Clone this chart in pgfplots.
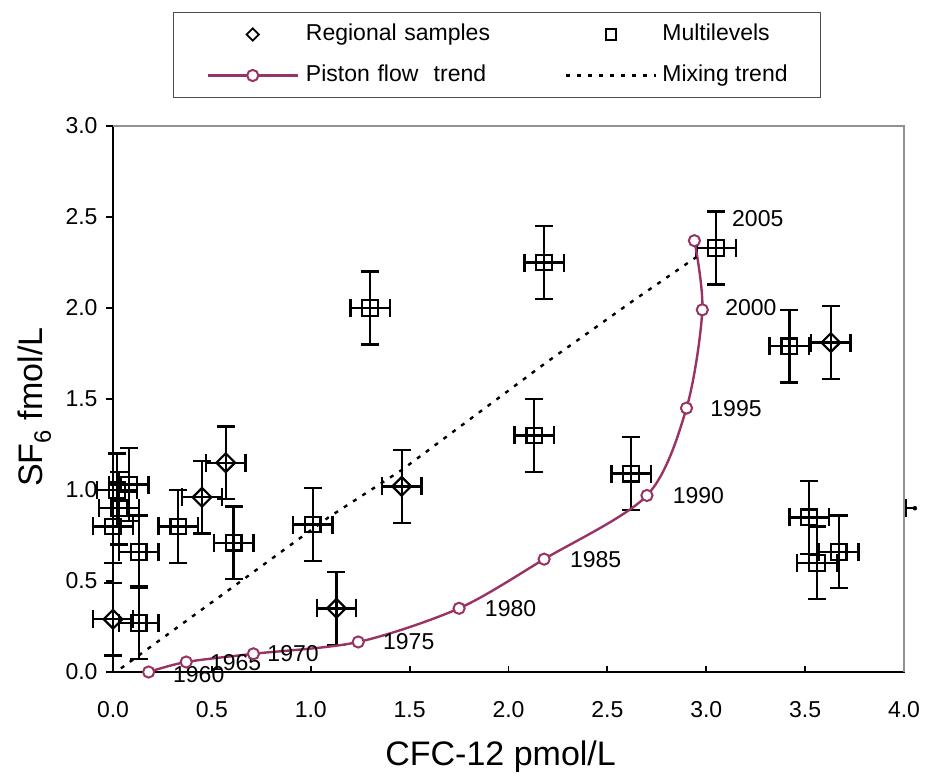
\documentclass[border=0pt]{standalone}
\usepackage{pgfplots}
\pgfplotsset{compat=1.18}
\usepackage{fontspec}
\setmainfont{Liberation Sans}
\definecolor{plum}{RGB}{153,51,102}
\definecolor{bordergray}{RGB}{145,145,145}
\begin{document}
\begin{tikzpicture}
\begin{axis}[
  scale only axis, width=791pt, height=546pt,
  xmin=0, xmax=4, ymin=0, ymax=3,
  clip=false,
  axis x line*=bottom, axis y line*=left,
  axis line style={line width=1.8pt, black, -},
  xtick={0,0.5,1,1.5,2,2.5,3,3.5,4}, ytick={0,0.5,1,1.5,2,2.5,3},
  tick align=outside, major tick length=7pt,
  tick style={black, line width=1.8pt},
  xtick style={yshift=6pt},
  /pgf/number format/assume math mode=true,
  /pgf/number format/.cd, fixed, fixed zerofill, precision=1, /pgfplots/.cd,
  ticklabel style={font=\fontsize{23}{27}\selectfont},
  xticklabel style={yshift=-19pt},
  yticklabel style={xshift=-5pt},
  xlabel={CFC-12 pmol/L},
  ylabel={SF\textsubscript{6} fmol/L},
  xlabel style={font=\fontsize{34}{40}\selectfont, at={(axis description cs:0.49,-0.156)}, anchor=center},
  ylabel style={font=\fontsize{34}{40}\selectfont, at={(axis description cs:-0.099,0.485)}, anchor=center},
  legend columns=2,
  legend cell align=left,
  legend image code/.code={\draw[#1, mark repeat=2, mark phase=2] plot coordinates {(0pt,0pt) (45pt,0pt) (90pt,0pt)};},
  legend style={at={(axis description cs:0.0759,1.2088)}, anchor=north west,
    draw=black!70, line width=1pt, inner xsep=33pt, inner ysep=11pt,
    font=\fontsize{23}{27}\selectfont,
    nodes={inner sep=0pt, text height=17pt, text depth=5pt},
    row sep=19pt,
    /tikz/column 1/.style={column sep=7pt},
    /tikz/column 2/.style={text width=259pt},
    /tikz/column 3/.style={column sep=5pt}},
]
\draw[bordergray, line width=2pt] (rel axis cs:0,1) -- (rel axis cs:1,1) -- (rel axis cs:1,0);

% Regional samples
\addplot[only marks, black, mark=square, mark size=6.6pt,
  mark options={rotate=45, line width=2.2pt, fill=none},
  legend image post style={mark size=4.3pt, mark options={rotate=45, line width=1.8pt}},
  error bars/.cd, x dir=both, x explicit, y dir=both, y explicit,
  error bar style={line width=2.4pt, black},
  error mark options={rotate=90, mark size=9pt, line width=2.4pt, black}]
  table[x=x, y=y, x error=ex, y error=ey] {
x    y    ex   ey
0.00 0.29 0.1 0.2
0.45 0.96 0.1 0.2
0.57 1.15 0.1 0.2
1.13 0.35 0.1 0.2
1.46 1.02 0.1 0.2
3.63 1.81 0.1 0.2
};
\addlegendentry{Regional samples}

% Multilevels
\addplot[only marks, black, mark=square, mark size=7.8pt,
  mark options={line width=2.2pt, fill=none},
  legend image post style={mark size=5.2pt, mark options={line width=1.8pt}},
  error bars/.cd, x dir=both, x explicit, y dir=both, y explicit,
  error bar style={line width=2.4pt, black},
  error mark options={rotate=90, mark size=9pt, line width=2.4pt, black}]
  table[x=x, y=y, x error=ex, y error=ey] {
x    y    ex   ey
0.00 0.80 0.1 0.2
0.03 0.90 0.1 0.2
0.02 1.00 0.1 0.2
0.08 1.03 0.1 0.2
0.13 0.66 0.1 0.2
0.13 0.27 0.1 0.2
0.33 0.80 0.1 0.2
0.61 0.71 0.1 0.2
1.01 0.81 0.1 0.2
1.30 2.00 0.1 0.2
2.18 2.25 0.1 0.2
2.13 1.30 0.1 0.2
2.62 1.09 0.1 0.2
3.05 2.33 0.1 0.2
3.42 1.79 0.1 0.2
3.52 0.85 0.1 0.2
3.56 0.60 0.1 0.2
3.67 0.66 0.1 0.2
};
\addlegendentry{Multilevels}

% Piston flow trend
\addplot[plum, line width=2.4pt, smooth, mark=*, mark size=5.6pt,
  mark options={fill=white, line width=2pt}]
  coordinates {
(0.18,0.00) (0.37,0.055) (0.71,0.10) (1.24,0.165) (1.75,0.35)
(2.18,0.62) (2.70,0.97) (2.90,1.45) (2.98,1.99) (2.94,2.37)
};
\addlegendentry{Piston flow\ \ trend}

% Mixing trend
\addplot[black, line width=2.4pt, dash pattern=on 4pt off 7pt]
  coordinates {
(0.04,0.02) (0.61,0.47) (1.09,0.85) (1.46,1.11) (2.19,1.70) (2.63,2.04) (2.95,2.28)
};
\addlegendentry{Mixing trend}

% partially visible sample beyond the axis range
\addplot[only marks, mark=none, forget plot,
  error bars/.cd, x dir=minus, x fixed=0.045,
  error bar style={line width=2.4pt, black},
  error mark options={rotate=90, mark size=9pt, line width=2.4pt, black}]
  coordinates {(4.055,0.90)};

\begin{scope}[every node/.style={inner sep=0pt, anchor=west, font=\fontsize{23}{27}\selectfont}]
\node at (axis cs:0.303,-0.016) {1960};
\node at (axis cs:0.49,0.05) {1965};
\node at (axis cs:0.78,0.10) {1970};
\node at (axis cs:1.365,0.165) {1975};
\node at (axis cs:1.88,0.35) {1980};
\node at (axis cs:2.31,0.615) {1985};
\node at (axis cs:2.83,0.97) {1990};
\node at (axis cs:3.02,1.445) {1995};
\node at (axis cs:3.095,2.00) {2000};
\node at (axis cs:3.13,2.49) {2005};
\end{scope}

\path (rel axis cs:-0.1429,-0.1996) (rel axis cs:1.0278,1.2308);
\end{axis}
\end{tikzpicture}
\end{document}
